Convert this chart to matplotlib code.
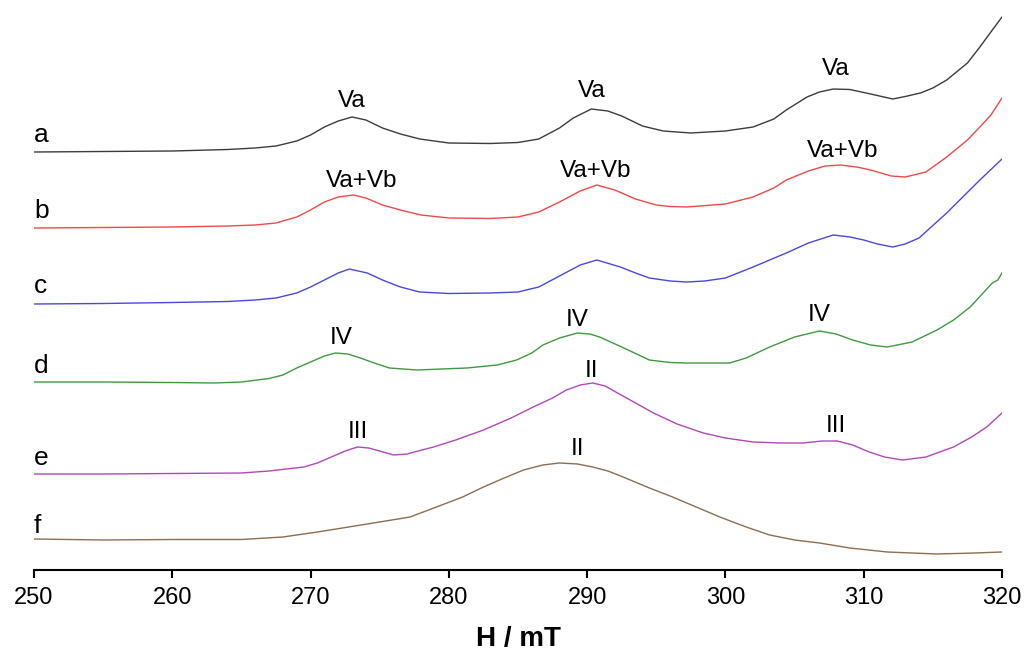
import matplotlib
matplotlib.use('Agg')
import matplotlib.pyplot as plt

plt.rcParams['font.family'] = ['Liberation Sans', 'DejaVu Sans']

# field values (mT) and stacked signal heights
H_a = [250, 255, 260, 264, 266, 267.5, 269, 270, 271, 272, 273, 274, 275.2, 276.5, 277.9, 280, 283, 285, 286.5, 288,
       289, 290.3, 291.5, 292.5, 294, 295.5, 297.5, 300, 302, 303.5, 304.4, 305.9, 306.8, 307.8, 309, 310.5, 312.1,
       313, 314.1, 315, 316, 317.5, 318.4, 319.3, 320]
I_a = [418, 418.5, 419, 420.5, 422, 424, 429, 435, 443, 449, 453, 450, 442, 436, 431, 427, 426.5, 427.5, 431, 442,
       452, 461, 459, 454, 444, 439, 437, 439, 443, 451, 460, 473, 478, 481, 480.5, 476, 471,
       473.5, 477, 482, 490, 507, 523, 540, 553]

H_b = [250, 255, 260, 264, 266, 267.5, 269, 270, 271, 272, 273.1, 274, 275.2, 276.5, 278, 280, 283, 285, 286.5, 288,
       289.5, 290.7, 292, 293.5, 295, 296, 297.2, 300, 302, 303.5, 304.4, 306, 307.2, 308.3, 309.5, 310.5, 312, 313,
       314.5, 316, 317.5, 318.4, 319.2, 320]
I_b = [342, 342.5, 343, 344, 345, 347, 353, 360, 368, 373, 375, 372, 365, 360, 355, 352, 351.5, 353, 358, 368,
       379, 385, 380, 371, 365, 363.5, 363, 366, 373, 382, 390, 399, 404, 405, 403, 400, 394, 393,
       398, 413, 430, 443, 455, 472]

H_c = [250, 255, 260, 264, 266, 267.5, 269, 270, 271, 272, 272.8, 274.1, 275.2, 276.5, 277.9, 280, 283, 285, 286.5, 288,
       289.5, 290.7, 292.4, 293.5, 294.5, 296, 297.2, 298.5, 300, 302, 304.4, 306, 307.8, 309, 310, 311, 312.1, 313,
       314, 316, 318.4, 320]
I_c = [266, 266.5, 267.5, 268.5, 270, 272, 277, 283, 290, 297, 301, 297, 290, 283, 278, 276.5, 277, 278, 283, 294,
       305, 310, 303, 297, 292, 289, 288, 289, 292, 303, 317, 327, 335, 333, 330, 326, 323, 326,
       332, 357, 390, 411]

H_d = [250, 255, 260, 263, 265, 267, 268, 269, 270, 271, 271.8, 272.7, 273.6, 274.6, 275.7, 277.7, 281.3, 283.5, 284.9, 286,
       286.8, 288, 289.3, 290.2, 290.9, 292.5, 294.5, 296, 297.2, 300.3, 301.5, 303.2, 305, 306.8, 308, 309.2, 310.5,
       311.7, 313.5, 315.3, 316.5, 317.7, 318.5, 319.3, 319.7, 320]
I_d = [188, 188, 187.5, 187, 188, 191.5, 195, 202, 208, 214, 217, 216, 212, 207, 202, 200, 202, 205, 210, 217,
       225, 232, 237, 236, 233, 223, 210, 207.5, 207, 207, 212, 223, 233, 239, 236, 230, 225,
       223, 228, 240, 250, 263, 275, 287, 290, 297]

H_e = [250, 255, 260, 265, 267, 269.5, 270.5, 271.5, 272.5, 273.4, 274.2, 275, 276, 277, 277.5, 278.9, 280.5, 282.5, 284.5,
       286.1, 287.5, 288.5, 289.5, 290.4, 291.3, 292.2, 293.5, 294.8, 296.5, 298.4, 300, 302, 304, 305.6, 307, 308.1,
       309.2, 310.4, 311.5, 312.8, 314.5, 316.5, 317.8, 318.9, 320]
I_e = [96, 96, 96.5, 97, 99, 103, 107, 113, 119, 123, 122, 119, 115, 116, 118, 123, 130, 140, 152,
       163, 172, 180, 185, 187, 184, 177, 167, 157, 146, 137, 132, 128, 127, 127, 129, 129,
       125, 118, 113, 110, 113, 123, 133, 143, 157]

H_f = [250, 255, 260, 265, 268, 270.5, 274.1, 277.2, 279.1, 281, 282.5, 284, 285.4, 286.8, 288, 289.3, 290.4, 291.5,
       292.6, 294.5, 296, 297.2, 299.6, 301.5, 303.2, 305, 306.8, 309, 311.7, 315.3, 318, 320]
I_f = [31, 30, 30.5, 30.5, 33, 38, 46, 53, 63, 73, 83, 92, 100, 105, 107, 106, 103, 99,
       93, 82, 74, 67, 53, 43, 35, 30, 27, 22, 18, 16, 17, 18]

names = ['a', 'b', 'c', 'd', 'e', 'f']
name_y = [428, 352, 277, 197, 105, 37]
colors = ['#3c3c3c', '#f04848', '#4848e0', '#3f9a3f', '#b048b8', '#8c6e50']

# peak assignments: (H, height, text)
peak_H = [273, 290.3, 308, 273.7, 290.6, 308.5, 272.2, 289.3, 306.8, 273.4, 290.3, 308, 289.3]
peak_y = [463, 473, 495, 383, 393, 413, 226, 244, 249, 132, 193, 138, 115]
peak_txt = ['Va', 'Va', 'Va', 'Va+Vb', 'Va+Vb', 'Va+Vb', 'IV', 'IV', 'IV', 'III', 'II', 'III', 'II']

fig = plt.figure(figsize=(10.3, 6.57), dpi=100)
ax = fig.add_axes([34 / 1030, 87 / 657, 968 / 1030, 570 / 657])

curves = [(H_a, I_a), (H_b, I_b), (H_c, I_c), (H_d, I_d), (H_e, I_e), (H_f, I_f)]
for (h, i), c in zip(curves, colors):
    ax.plot(h, i, color=c, lw=1.0)

for n, y in zip(names, name_y):
    ax.text(250, y, n, fontsize=19, ha='left', va='baseline', clip_on=False)

for h, y, t in zip(peak_H, peak_y, peak_txt):
    ax.text(h, y, t, fontsize=17.5, ha='center', va='baseline')

ax.set_xlim(250, 320)
ax.set_ylim(0, 570)
ax.set_xticks(range(250, 321, 10))
ax.set_yticks([])
for s in ['top', 'right', 'left']:
    ax.spines[s].set_visible(False)
ax.spines['bottom'].set_linewidth(1.5)
ax.tick_params(axis='x', direction='out', length=6, width=1.5, labelsize=17, pad=6.5)
ax.set_xlabel('H / mT', fontsize=20, fontweight='bold', labelpad=12)

fig.savefig('out.png', dpi=100)
